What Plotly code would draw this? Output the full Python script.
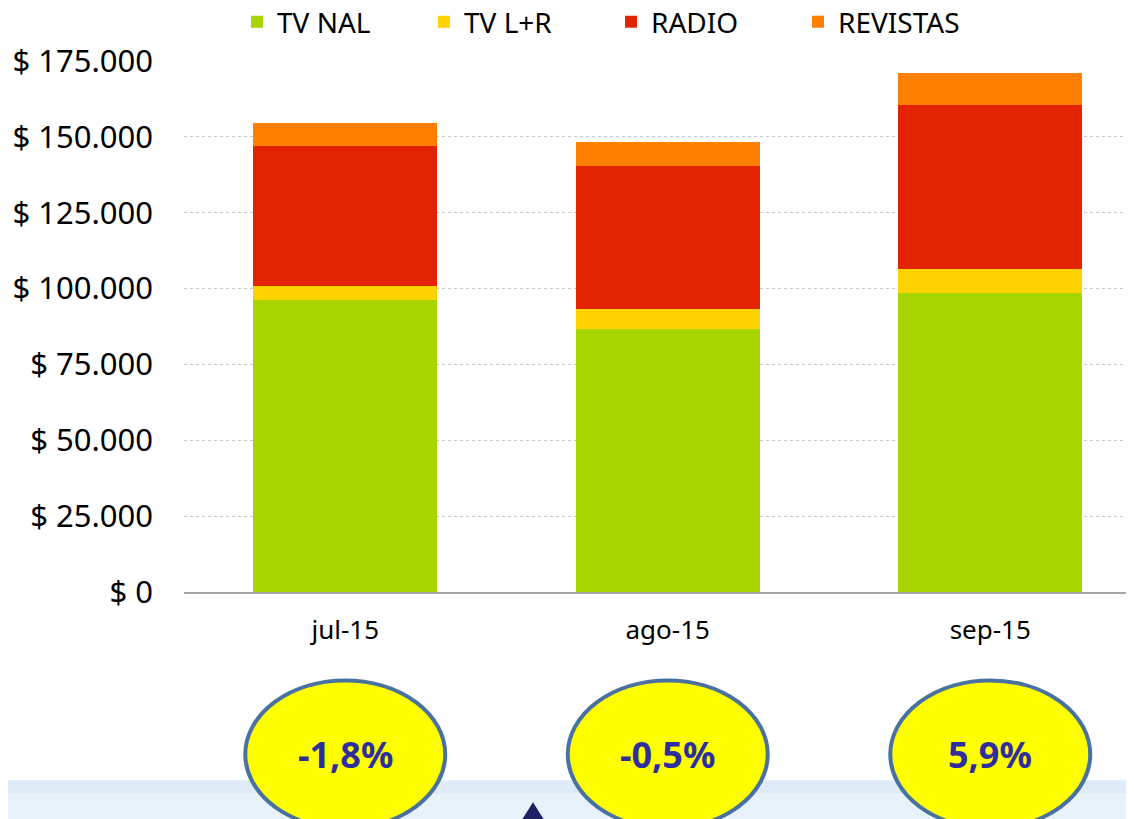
import plotly.graph_objects as go

months = ["jul-15", "ago-15", "sep-15"]
tv_nal = [96100, 86800, 98700]
tv_lr = [4900, 6600, 7800]
radio = [45900, 46900, 54100]
revistas = [7600, 8000, 10400]
variation = ["-1,8%", "-0,5%", "5,9%"]

series = [
    ("TV NAL", tv_nal, "#A8D400"),
    ("TV L+R", tv_lr, "#FFD300"),
    ("RADIO", radio, "#E32400"),
    ("REVISTAS", revistas, "#FF7F00"),
]

y_ticks = list(range(0, 175001, 25000))
y_text = ["$ " + f"{v:,}".replace(",", ".") for v in y_ticks]

# the page adds an 8px body margin, so work in screen pixels and shift
OFF = 8
W, H = 1134 - OFF, 819 - OFF
PL, PT, PB = 184 - OFF, 61 - OFF, 592.5 - OFF
FONT = "Noto Sans, DejaVu Sans, sans-serif"


def px(x):
    # screen x -> paper
    return (x - OFF - PL) / (W - PL)


def py(y):
    # screen y -> paper
    return (PB - (y - OFF)) / (PB - PT)


fig = go.Figure()
for name, vals, color in series:
    fig.add_trace(go.Bar(
        x=months, y=vals, name=name,
        marker=dict(color=color, line=dict(width=0)),
        width=0.57,
    ))

# light band and pointer at the bottom
fig.add_shape(type="rect", xref="paper", yref="paper",
              x0=px(0), x1=px(1134), y0=py(781), y1=py(795),
              fillcolor="#DFECF8", line=dict(width=0))
fig.add_shape(type="rect", xref="paper", yref="paper",
              x0=px(0), x1=px(1134), y0=py(795), y1=py(820),
              fillcolor="#E8F2FB", line=dict(width=0))
fig.add_shape(type="path", xref="paper", yref="paper",
              path=f"M {px(521)},{py(822)} L {px(533)},{py(803)} L {px(545)},{py(822)} Z",
              fillcolor="#1F2062", line=dict(width=0))

# variation bubbles
for i, txt in enumerate(variation):
    fig.add_shape(type="circle", xref="x", yref="paper",
                  x0=i - 0.31, x1=i + 0.31, y0=py(829), y1=py(681),
                  fillcolor="#FFFF00", line=dict(color="#4A72A0", width=4))
    fig.add_annotation(x=i, y=py(755), xref="x", yref="paper", text=f"<b>{txt}</b>",
                       xanchor="center", yanchor="middle", showarrow=False,
                       font=dict(size=36, color="#2E2E9E", family=FONT))

fig.update_layout(
    width=W, height=H,
    barmode="stack",
    paper_bgcolor="white",
    plot_bgcolor="white",
    font=dict(family=FONT, color="black"),
    margin=dict(l=PL, r=0, t=PT, b=H - PB, autoexpand=False),
    showlegend=True,
    legend=dict(
        orientation="h", x=px(237), xanchor="left", y=py(22), yanchor="middle",
        font=dict(size=28, family=FONT), entrywidth=142, entrywidthmode="pixels",
        traceorder="normal", bgcolor="rgba(0,0,0,0)",
    ),
)
fig.update_xaxes(
    range=[-0.5, (W - PL) / 322.5 - 0.5],
    showline=True, linecolor="#A6A6A6", linewidth=2,
    showgrid=False, ticks="", tickfont=dict(size=26), ticklabelstandoff=14,
)
fig.update_yaxes(
    range=[0, 175000], tickvals=y_ticks, ticktext=y_text,
    showgrid=True, gridcolor="#C8C8C8", gridwidth=1, griddash="dot",
    zeroline=False, showline=False, ticks="",
    tickfont=dict(size=31), ticklabelstandoff=30,
)

fig.write_html("out.html")
